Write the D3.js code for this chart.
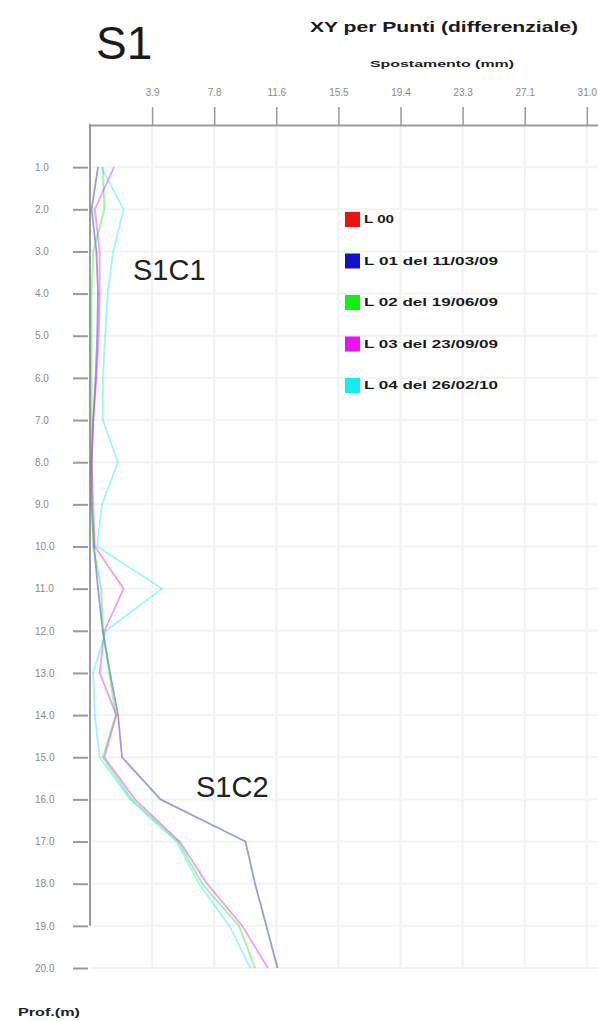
<!DOCTYPE html>
<html>
<head>
<meta charset="utf-8">
<script src="https://cdn.jsdelivr.net/npm/d3@7"></script>
<style>
  html, body { margin: 0; padding: 0; background: #fff; }
  svg { display: block; font-family: "Liberation Sans", Arial, sans-serif; }
</style>
</head>
<body>
<div id="grafico"></div>
<script>
// ==============================
// DATI
// ==============================

const profondita = [1, 2, 3, 4, 5, 6, 7, 8, 9, 10, 11, 12, 13, 14, 15, 16, 17, 18, 19, 20];

const letture = ["L 00", "L 01 del 11/03/09", "L 02 del 19/06/09", "L 03 del 23/09/09", "L 04 del 26/02/10"];
const colori = ["#ee1111", "#1111cc", "#11ee11", "#ee11ee", "#11eeee"];

// L 00 è la lettura di zero: nel differenziale resta sull'asse
const L00 = [0, 0, 0, 0, 0, 0, 0, 0, 0, 0, 0, 0, 0, 0, 0, 0, 0, 0, 0, 0];
const L01 = [0.5, 0.1, 0.4, 0.5, 0.45, 0.35, 0.2, 0.1, 0.1, 0.25, 0.5, 0.8, 1.25, 1.75, 2.0, 4.4, 9.7, 10.3, 11.0, 11.7];
const L02 = [0.8, 0.9, 0.2, 0.1, 0.1, 0.1, 0.1, 0.1, 0.1, 0.2, 0.7, 0.8, 1.2, 1.6, 0.8, 2.6, 5.5, 7.0, 9.3, 10.3];
const L03 = [1.5, 0.3, 0.6, 0.6, 0.55, 0.4, 0.2, 0.1, 0.2, 0.3, 2.1, 0.9, 0.6, 1.65, 0.9, 2.8, 5.6, 7.3, 9.5, 11.1];
const L04 = [0.7, 2.1, 1.45, 1.1, 0.95, 0.8, 0.8, 1.75, 0.75, 0.45, 4.5, 1.0, 0.2, 0.3, 0.6, 2.5, 5.4, 6.8, 8.7, 10.0];
const serie = [L00, L01, L02, L03, L04];

const xTicks = [3.875, 7.75, 11.625, 15.5, 19.375, 23.25, 27.125, 31.0];
const xTickLabels = ["3.9", "7.8", "11.6", "15.5", "19.4", "23.3", "27.1", "31.0"];
const yTickLabels = profondita.map(d => d.toFixed(1));

// ==============================
// SVG E SCALE
// ==============================

const W = 598, H = 1021;
const svg = d3.select("#grafico").append("svg").attr("width", W).attr("height", H);

const x = d3.scaleLinear().domain([0, 38.75]).range([90, 711]);
const y = d3.scaleLinear().domain([0, 20]).range([125, 968]);
const grigio = "#9a9a9a";

// griglia
const griglia = svg.append("g");
griglia.selectAll("line.v")
  .data(xTicks)
  .join("line")
  .attr("x1", d => x(d)).attr("x2", d => x(d))
  .attr("y1", y(0)).attr("y2", y(20))
  .attr("stroke", "#f1f1f1").attr("stroke-width", 2);
griglia.selectAll("line.h")
  .data(profondita)
  .join("line")
  .attr("x1", x(0)).attr("x2", W)
  .attr("y1", d => y(d)).attr("y2", d => y(d))
  .attr("stroke", "#f3f3f3").attr("stroke-width", 2);

const linea = d3.line()
  .x(d => x(d[1]))
  .y(d => y(d[0]));

// ==============================
// ASSI
// ==============================

const assX = svg.append("g")
  .attr("transform", `translate(0,${y(0)})`)
  .call(d3.axisTop(x).tickValues(xTicks).tickFormat((d, i) => xTickLabels[i]).tickSize(18).tickSizeOuter(0).tickPadding(11));
assX.select(".domain").attr("stroke", grigio).attr("stroke-width", 2);
assX.selectAll(".tick line").attr("stroke", grigio).attr("stroke-width", 1.5);
assX.selectAll(".tick text")
  .attr("fill", "#8a8a8a")
  .attr("font-size", 10)
  .attr("font-family", "Liberation Sans, Arial, sans-serif");

const assY = svg.append("g")
  .attr("transform", `translate(${x(0) - 2},0)`)
  .call(d3.axisLeft(y).tickValues(profondita).tickFormat((d, i) => yTickLabels[i]).tickSize(15).tickPadding(0));
assY.select(".domain").remove();
assY.selectAll(".tick line").attr("stroke", grigio).attr("stroke-width", 2);
assY.selectAll(".tick text")
  .attr("text-anchor", "start")
  .attr("x", -53)
  .attr("fill", "#8a8a8a")
  .attr("font-size", 10)
  .attr("font-family", "Liberation Sans, Arial, sans-serif");

svg.append("line")
  .attr("x1", x(0)).attr("x2", x(0))
  .attr("y1", y(0) - 1).attr("y2", y(19))
  .attr("stroke", grigio).attr("stroke-width", 2);

// ==============================
// CURVE (L 00 coincide con l'asse, non si vede)
// ==============================

svg.append("g")
  .selectAll("path")
  .data(serie.slice(1))
  .join("path")
  .attr("d", s => linea(profondita.map((p, i) => [p, s[i]])))
  .attr("fill", "none")
  .attr("stroke", (s, i) => colori[i + 1])
  .attr("stroke-opacity", 0.42)
  .attr("stroke-width", 1.8)
  .attr("stroke-linejoin", "round");

// ==============================
// TESTI
// ==============================

svg.append("text").attr("x", 96).attr("y", 59)
  .attr("font-size", 46).attr("fill", "#1a1a1a").text("S1");

svg.append("text").attr("x", 310).attr("y", 32)
  .attr("font-size", 15).attr("font-weight", "bold").attr("fill", "#1a1a1a")
  .attr("textLength", 268).attr("lengthAdjust", "spacingAndGlyphs")
  .text("XY per Punti (differenziale)");

svg.append("text").attr("x", 370).attr("y", 67)
  .attr("font-size", 9).attr("font-weight", "bold").attr("fill", "#222")
  .attr("textLength", 144).attr("lengthAdjust", "spacingAndGlyphs")
  .text("Spostamento (mm)");

svg.append("text").attr("x", 133).attr("y", 280)
  .attr("font-size", 29).attr("fill", "#222").text("S1C1");

svg.append("text").attr("x", 196).attr("y", 797)
  .attr("font-size", 29).attr("fill", "#222").text("S1C2");

svg.append("text").attr("x", 18).attr("y", 1016)
  .attr("font-size", 11).attr("font-weight", "bold").attr("fill", "#222")
  .attr("textLength", 62).attr("lengthAdjust", "spacingAndGlyphs")
  .text("Prof.(m)");

// ==============================
// LEGENDA
// ==============================

const legenda = svg.append("g").attr("transform", "translate(345,212)");
const voci = legenda.selectAll("g")
  .data(letture)
  .join("g")
  .attr("transform", (d, i) => `translate(0,${i * 41.5})`);

voci.append("rect")
  .attr("width", 15).attr("height", 15)
  .attr("fill", (d, i) => colori[i]);

voci.append("text")
  .attr("x", 19).attr("y", 11)
  .attr("font-size", 10).attr("font-weight", "bold").attr("fill", "#1a1a1a")
  .attr("textLength", d => d.length > 5 ? 134 : 30)
  .attr("lengthAdjust", "spacingAndGlyphs")
  .text(d => d);
</script>
</body>
</html>
